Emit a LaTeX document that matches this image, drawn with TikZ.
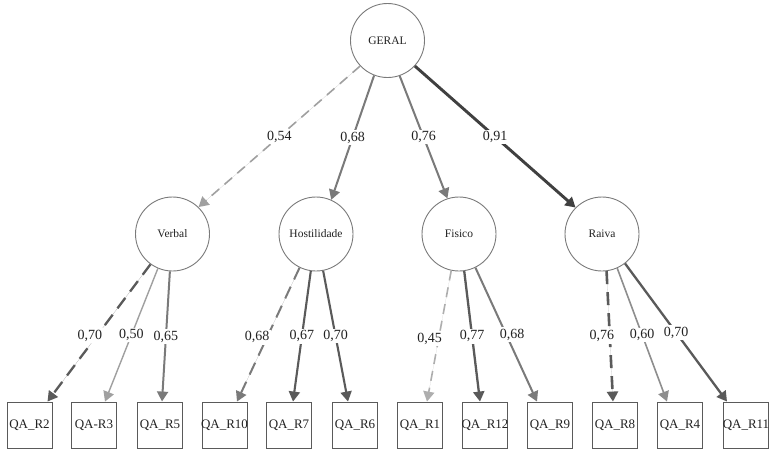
\documentclass[tikz,border=0pt]{standalone}
\usepackage{fontspec}
\setmainfont{Liberation Serif}
\usetikzlibrary{arrows.meta}
\definecolor{txt}{HTML}{222222}
\definecolor{lgray}{HTML}{A0A0A0}
\definecolor{mgray}{HTML}{7A7A7A}
\definecolor{dgray}{HTML}{5A5A5A}
\definecolor{vdgray}{HTML}{404040}
\tikzset{
  latent/.style={circle, draw=mgray, line width=0.9pt, minimum size=74pt, inner sep=0pt,
    font=\fontsize{11.5}{13}\selectfont, text=txt},
  item/.style={rectangle, draw=dgray, line width=0.9pt, minimum width=45pt, minimum height=46pt,
    inner sep=0pt, font=\fontsize{13}{15}\selectfont, text=txt},
  lbl/.style={fill=white, inner sep=1.5pt, font=\fontsize{14}{16}\selectfont, text=txt},
  tip/.style={-{Triangle[length=10pt,width=11pt]}},
  edgeA/.style={tip, line width=1.6pt, draw=lgray, fill=lgray},
  edgeB/.style={tip, line width=2.0pt, draw=mgray, fill=mgray},
  edgeC/.style={tip, line width=2.3pt, draw=dgray, fill=dgray},
  edgeD/.style={tip, line width=2.9pt, draw=vdgray, fill=vdgray},
  dash1/.style={dash pattern=on 10pt off 7pt},
  dash2/.style={dash pattern=on 13pt off 8pt},
}
\begin{document}
\begin{tikzpicture}[x=1pt,y=-1pt]
\useasboundingbox (0,0) rectangle (776,456);
\fill[white] (0,0) rectangle (776,456);
% latent nodes
\node[latent] (geral) at (387.5,40.5) {GERAL};
\node[latent] (verbal) at (172.5,234) {Verbal};
\node[latent] (host) at (316,234) {Hostilidade};
\node[latent] (fis) at (459,234) {Fisico};
\node[latent] (raiva) at (602,234) {Raiva};
% items
\node[item] (r2) at (29.5,425) {\makebox[0pt]{QA\_R2}};
\node[item] (r3) at (94,425) {\makebox[0pt]{QA-R3}};
\node[item] (r5) at (160,425) {\makebox[0pt]{QA\_R5}};
\node[item] (r10) at (224.5,425) {\makebox[0pt]{QA\_R10}};
\node[item] (r7) at (289,425) {\makebox[0pt]{QA\_R7}};
\node[item] (r6) at (355,425) {\makebox[0pt]{QA\_R6}};
\node[item] (r1) at (420,425) {\makebox[0pt]{QA\_R1}};
\node[item] (r12) at (485,425) {\makebox[0pt]{QA\_R12}};
\node[item] (r9) at (550,425) {\makebox[0pt]{QA\_R9}};
\node[item] (r8) at (615,425) {\makebox[0pt]{QA\_R8}};
\node[item] (r4) at (680,425) {\makebox[0pt]{QA\_R4}};
\node[item] (r11) at (746,425) {\makebox[0pt]{QA\_R11}};
% top level
\draw[edgeA, dash1] (geral.223) -- (verbal.46) node[lbl, pos=0.5] {0,54};
\draw[edgeB] (geral.249) -- (host.66) node[lbl, pos=0.5] {0,68};
\draw[edgeB] (geral.289) -- (fis.108) node[lbl, pos=0.5] {0,76};
\draw[edgeD] (geral.317) -- (raiva.135) node[lbl, pos=0.5] {0,91};
% Verbal
\draw[edgeC, dash2] (verbal.234) -- ([xshift=18pt]r2.north) node[lbl, pos=0.52, xshift=-7pt] {0,70};
\draw[edgeA, line width=1.4pt] (verbal.247) -- ([xshift=11pt]r3.north) node[lbl, pos=0.5] {0,50};
\draw[edgeB] (verbal.266) -- ([xshift=2pt]r5.north) node[lbl, pos=0.5] {0,65};
% Hostilidade
\draw[edgeB, dash2] (host.244) -- ([xshift=12.5pt]r10.north) node[lbl, pos=0.52, xshift=-10pt] {0,68};
\draw[edgeC, line width=2.1pt] (host.262) -- ([xshift=4pt]r7.north) node[lbl, pos=0.5] {0,67};
\draw[edgeC, line width=2.1pt] (host.281) -- ([xshift=-7pt]r6.north) node[lbl, pos=0.5] {0,70};
% Fisico
\draw[edgeA, dash1, draw=lgray!85, fill=lgray!85] (fis.258) -- ([xshift=7pt]r1.north) node[lbl, pos=0.52, xshift=-9pt] {0,45};
\draw[edgeC] (fis.278) -- ([xshift=-5pt]r12.north) node[lbl, pos=0.5] {0,77};
\draw[edgeB] (fis.296) -- ([xshift=-13pt]r9.north) node[lbl, pos=0.5, xshift=6pt] {0,68};
% Raiva
\draw[edgeC, dash2, line width=2.6pt] (raiva.277) -- ([xshift=-2pt]r8.north) node[lbl, pos=0.5, xshift=-8pt] {0,76};
\draw[edgeB, line width=1.6pt, draw=mgray!85, fill=mgray!85] (raiva.294) -- ([xshift=-13pt]r4.north) node[lbl, pos=0.5] {0,60};
\draw[edgeC] (raiva.308) -- ([xshift=-19pt]r11.north) node[lbl, pos=0.5] {0,70};
\end{tikzpicture}
\end{document}
